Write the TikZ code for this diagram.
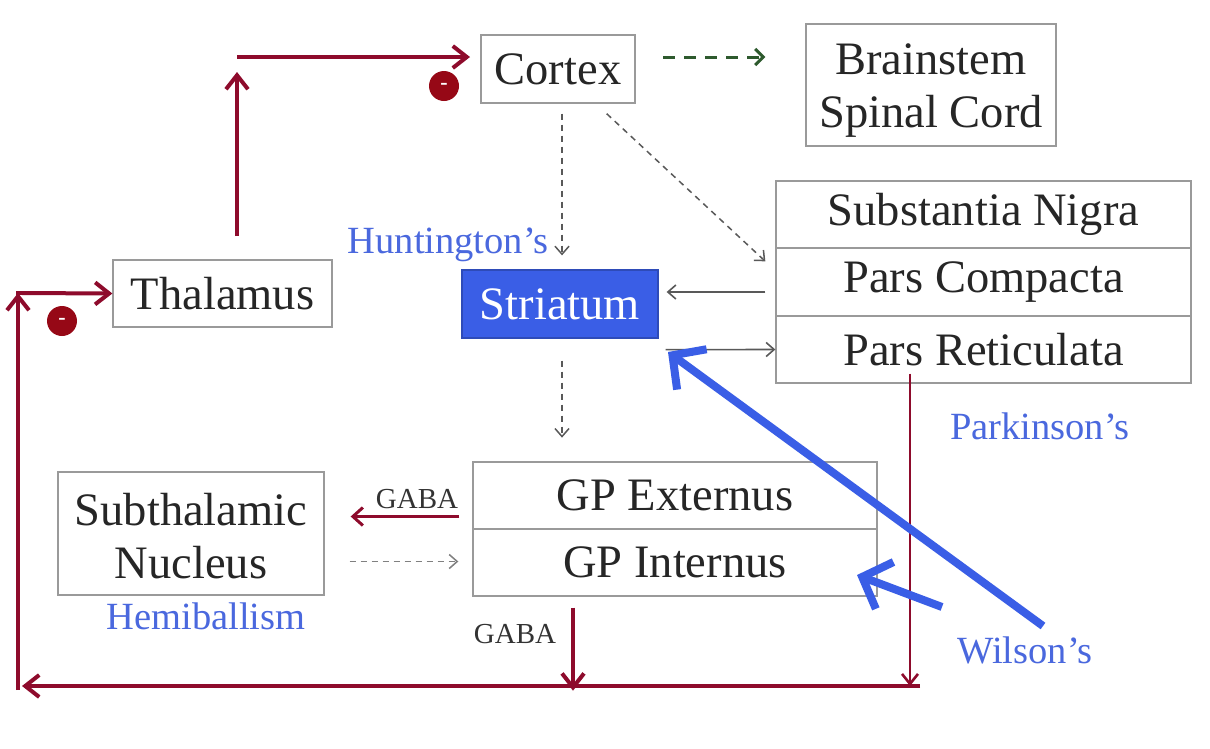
\documentclass[tikz,border=0pt]{standalone}
\usepackage{fontspec}
\setmainfont{Liberation Serif}
\usetikzlibrary{arrows.meta,calc}
\definecolor{dred}{HTML}{8E0B2C}
\definecolor{cred}{HTML}{B00A1A}
\definecolor{sblue}{HTML}{3A5EE6}
\definecolor{tblue}{HTML}{4A68DE}
\definecolor{dgreen}{HTML}{2E5A2E}
\definecolor{boxgray}{HTML}{9A9A9A}
\tikzset{
  x=1pt,y=-1pt,
  boxnode/.style={draw=boxgray,line width=1.3pt,fill=white,inner sep=0pt,font=\fontsize{46.5}{50}\selectfont,text=black!85},
  boxtext/.style={inner sep=0pt,align=center,text=black!85,font=\fontsize{46.5}{53}\selectfont},
  bluetext/.style={inner sep=0pt,text=tblue,font=\fontsize{38.5}{42}\selectfont},
  gabatext/.style={inner sep=0pt,text=black!80,font=\fontsize{29}{32}\selectfont},
  redarrow/.style={draw=dred,line width=4pt,-{Straight Barb[length=14pt,width=22pt,line width=4pt]}},
  thinred/.style={draw=dred,line width=2.6pt,-{Straight Barb[length=10pt,width=16pt,line width=2.6pt]}},
  grayarrow/.style={draw=black!65,line width=1.6pt,-{Straight Barb[length=8pt,width=14pt,line width=1.6pt]}},
  graydash/.style={draw=black!65,line width=1.5pt,dash pattern=on 6pt off 5pt,-{Straight Barb[length=8pt,width=14pt,line width=1.5pt]}},
  bluearrow/.style={draw=sblue,line width=8pt,-{Straight Barb[length=24pt,width=50pt,line width=8pt]}},
  minusdot/.style={circle,fill=cred!85!black,minimum size=30pt,inner sep=0pt,text=white,font=\bfseries\fontsize{22}{22}\selectfont},
}
\begin{document}
\begin{tikzpicture}
\useasboundingbox[fill=white] (0,0) rectangle (1210,748);

% boxes
\node[boxnode,minimum width=154,minimum height=68] (cortex) at (558,69) {Cortex};
\node[boxnode,minimum width=250,minimum height=122] (brain) at (931,85) {};
\node[boxtext] (braintext) at ($(brain)+(0,6)$) {Brainstem\\Spinal Cord};
\node[boxnode,minimum width=415,minimum height=67] (sn) at (983.5,214.5) {Substantia Nigra};
\node[boxnode,minimum width=415,minimum height=68] (pc) at (983.5,282) {Pars Compacta};
\node[boxnode,minimum width=415,minimum height=67] (pr) at (983.5,349.5) {Pars Reticulata};
\node[boxnode,minimum width=219,minimum height=67] (thal) at (222.5,293.5) {Thalamus};
\node[draw=sblue!80!black,line width=1.3pt,fill=sblue,inner sep=0pt,minimum width=196,minimum height=68,text=white,font=\fontsize{46.5}{50}\selectfont] (str) at (560,304) {Striatum};
\node[boxnode,minimum width=404,minimum height=67] (gpe) at (675,495.5) {GP Externus};
\node[boxnode,minimum width=404,minimum height=67] (gpi) at (675,562.5) {GP Internus};
\node[boxnode,minimum width=266,minimum height=123] (stn) at (191,533.5) {};
\node[boxtext] (stntext) at ($(stn)+(0,3)$) {Subthalamic\\Nucleus};

% labels
\node[bluetext,anchor=east] (hunt) at (549,245) {Huntington’s};
\node[bluetext] (park) at (1040,426) {Parkinson’s};
\node[bluetext] (hemi) at (206,616) {Hemiballism};
\node[bluetext] (wil) at (1025,650) {Wilson’s};
\node[gabatext] (gaba1) at (417,499) {GABA};
\node[gabatext] (gaba2) at (515,634) {GABA};

% coordinates
\coordinate (tU) at (237,236);
\coordinate (tT) at (237,72);
\coordinate (tC) at (237,57);
\coordinate (cW) at (470,57);
\coordinate (bR) at (910,686);
\coordinate (bL) at (22,686);
\coordinate (lB) at (18,690);
\coordinate (lT) at (18,293);
\coordinate (wA) at (1043,626);
\coordinate (wB) at (942,607);
\coordinate (wT) at (668,352);
\coordinate (gT) at (857,575);

% top loop
\draw[redarrow] (tU) -- (tT);
\draw[redarrow] (tC) -- (cW);
\node[minusdot] (m1) at (444,86) {-};

% cortex outputs
\draw[draw=dgreen,line width=3pt,dash pattern=on 12pt off 9pt,-{Straight Barb[length=8pt,width=16pt,line width=3pt]}] (663,57) -- ($(brain.west |- 663,57)+(-40,0)$);
\draw[graydash] ($(cortex.south)+(4,10)$) -- ($(str.north)+(2,-14)$);
\draw[graydash] ($(cortex.south east)+(-29,10)$) -- ($(pc.north west)+(-10,14)$);

% striatum / SN
\draw[grayarrow] ($(pc.west)+(-10,10)$) -- ($(str.east |- pc.west)+(8,10)$);
\draw[grayarrow] ($(str.south east)+(7,11)$) -- (pr.west);
\draw[graydash] ($(str.south)+(2,22)$) -- ($(str.south)+(2,99)$);

% GP / STN
\draw[draw=dred,line width=3pt,-{Straight Barb[length=10pt,width=18pt,line width=3pt]}] ($(gpe.west)+(-13,21)$) -- ($(stn.east |- gpe.west)+(26,21)$);
\draw[graydash,black!50] ($(stn.east |- gpi.west)+(25,-1)$) -- ($(gpi.west)+(-14,-1)$);
\draw[redarrow] ($(gpi.south)+(-102,11)$) -- ($(gpi.south)+(-102,94)$);

% bottom loop
\draw[thinred] ($(pr.south -| bR)+(0,-10)$) -- (bR);
\draw[redarrow,-] (920,686) -- (bR);
\draw[redarrow] (bR) -- (bL);
\draw[redarrow] (lB) -- (lT);
\draw[redarrow,-] (16,293) -- (22,293);
\draw[redarrow] (22,293) -- (thal.west);
\node[minusdot] (m2) at (62,321) {-};

% Wilson arrows
\draw[bluearrow] (wA) -- (wT);
\draw[bluearrow] (wB) -- (gT);
\end{tikzpicture}
\end{document}
